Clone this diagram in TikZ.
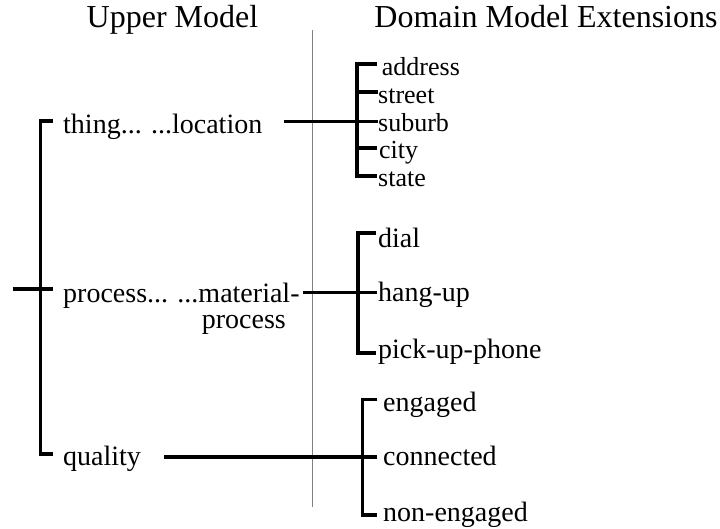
\documentclass[tikz,border=0pt]{standalone}
\usepackage{fontspec}
\setmainfont{Liberation Serif}
\begin{document}
\begin{tikzpicture}[x=1pt,y=-1pt,
  lbl/.style={inner sep=0pt, anchor=base west, font=\fontsize{28}{32}\selectfont},
  slbl/.style={inner sep=0pt, anchor=base west, font=\fontsize{26}{30}\selectfont},
  ttl/.style={inner sep=0pt, anchor=base, font=\fontsize{32}{36}\selectfont},
  conn/.style={line width=3.2pt, line cap=butt, line join=miter, black},
  divider/.style={draw=black!50, line width=1pt}]
\useasboundingbox (0,0) rectangle (720,529);
% titles
\node[ttl] (tup) at (172.5,28) {Upper Model};
\node[ttl] (tdom) at (546,28) {Domain Model Extensions};
% divider
\coordinate (dtop) at (312,30);
\coordinate (dbot) at (312,507);
\draw[divider] (dtop) -- (dbot);
% left labels
\node[lbl] (thing) at (63,134) {thing... ...location};
\node[lbl] (proc) at (63,302) {process... ...material-};
\node[lbl, anchor=base east] (proc2) at (286,328) {process};
\node[lbl] (qual) at (63,465) {quality};
% left tree
\coordinate (lTs) at (53,121);
\coordinate (lTc) at (40.7,121);
\coordinate (lBc) at (40.7,454);
\coordinate (lBs) at (53,454);
\coordinate (lMa) at (12.7,289);
\coordinate (lMb) at (53,289);
\draw[conn] (lTs) -- (lTc) -- (lBc) -- (lBs);
\draw[conn] (lMa) -- (lMb);
% location group
\node[slbl] (addr) at (381.7,76) {address};
\node[slbl] (street) at (378,104) {street};
\node[slbl] (suburb) at (378,132) {suburb};
\node[slbl] (city) at (379,159) {city};
\node[slbl] (state) at (378,187) {state};
\coordinate (gAt) at (357,64);
\coordinate (gAts) at (377,64);
\coordinate (gAb) at (357,176);
\coordinate (gAbs) at (377,176);
\coordinate (gA2) at (357,92);
\coordinate (gA2s) at (378,92);
\coordinate (gA4) at (357,148);
\coordinate (gA4s) at (377,148);
\coordinate (locL) at (284,121.7);
\coordinate (locR) at (378,121.7);
\draw[conn] (gAts) -- (gAt) -- (gAb) -- (gAbs);
\draw[conn] (gA2) -- (gA2s);
\draw[conn] (gA4) -- (gA4s);
\draw[conn] (locL) -- (locR);
% process group
\node[lbl] (dial) at (378,248) {dial};
\node[lbl] (hang) at (378,301.7) {hang-up};
\node[lbl] (pick) at (378,358) {pick-up-phone};
\coordinate (gBt) at (358,233);
\coordinate (gBts) at (376,233);
\coordinate (gBb) at (358,353);
\coordinate (gBbs) at (376,353);
\coordinate (procL) at (303,292.7);
\coordinate (procR) at (377,292.7);
\draw[conn] (gBts) -- (gBt) -- (gBb) -- (gBbs);
\draw[conn] (procL) -- (procR);
% quality group
\node[lbl] (eng) at (383,411) {engaged};
\node[lbl] (conn) at (383,465) {connected};
\node[lbl] (noneng) at (383,521.7) {non-engaged};
\coordinate (gCt) at (362.7,399.3);
\coordinate (gCts) at (377.3,399.3);
\coordinate (gCb) at (362.7,515);
\coordinate (gCbs) at (377.3,515);
\coordinate (qualL) at (164.3,457);
\coordinate (qualR) at (377.3,457);
\draw[conn] (gCts) -- (gCt) -- (gCb) -- (gCbs);
\draw[conn] (qualL) -- (qualR);
\end{tikzpicture}
\end{document}
